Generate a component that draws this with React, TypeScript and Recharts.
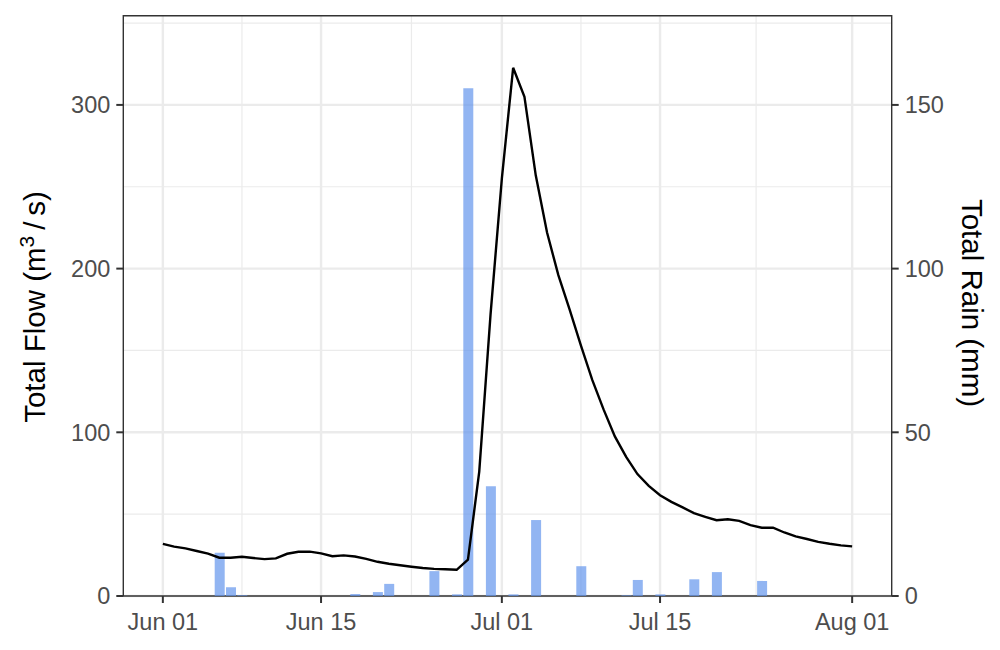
import {
  ComposedChart,
  Bar,
  Line,
  XAxis,
  YAxis,
  CartesianGrid,
  ReferenceArea,
  Label,
} from 'recharts'

// daily series, Jun 01 .. Aug 01 (62 days)
const flow = [
  31.8, 30.2, 29.1, 27.5, 25.9, 23.4, 23.4, 24.0, 23.2, 22.5,
  23.0, 25.8, 27.0, 27.1, 26.0, 24.3, 24.8, 24.1, 22.7, 20.9,
  19.7, 18.8, 17.9, 17.1, 16.6, 16.3, 16.0, 22.2, 76, 172,
  255, 322.7, 305, 257, 222, 196, 175, 153, 132, 114,
  97.5, 85, 74.5, 67.3, 61.6, 57.5, 54.1, 50.6, 48.4, 46.3,
  46.9, 45.9, 43.3, 41.7, 41.7, 38.8, 36.4, 34.8, 33.1, 31.9,
  30.9, 30.3,
]

const rain = [
  0, 0, 0, 0, 0, 13.2, 2.7, 0.2, 0, 0,
  0, 0, 0, 0, 0, 0, 0, 0.6, 0, 1.2,
  3.7, 0, 0, 0, 7.6, 0, 0.5, 155.1, 0, 33.5,
  0, 0.5, 0, 23.2, 0, 0, 0, 9.1, 0, 0,
  0, 0.2, 4.9, 0, 0.5, 0, 0, 5.1, 0, 7.3,
  0, 0, 0, 4.6, 0, 0, 0, 0, 0, 0,
  0, 0,
]

const tickDays = [0, 14, 30, 44, 61]
const tickLabels = ['Jun 01', 'Jun 15', 'Jul 01', 'Jul 15', 'Aug 01']
const minorDays = [7, 22, 37, 52.5]
const flowTicks = [0, 100, 200, 300]
const flowMinor = [50, 150, 250, 350]
const rainTicks = [0, 50, 100, 150]

const data = flow.map((f, i) => ({ day: i, flow: f, rain: rain[i] }))

const FONT = '"Liberation Sans", Arial, Helvetica, sans-serif'
const tickStyle = { fontSize: 23.5, fill: '#4D4D4D', fontFamily: FONT }

const xDomain = [-3.5, 64.5]
const flowDomain = [0, 354.5]
const rainDomain = [0, 177.25]

export default function App() {
  return (
    <div style={{ position: 'absolute', left: 0, top: 0, width: 1000, height: 650, background: '#fff' }}>
      <ComposedChart
        width={1000}
        height={650}
        data={data}
        margin={{ top: 15.7, right: 8.3, bottom: 14, left: 23.3 }}
      >
        <CartesianGrid
          xAxisId="x"
          yAxisId="left"
          verticalValues={minorDays}
          horizontalValues={flowMinor}
          stroke="#EBEBEB"
          strokeWidth={1.2}
        />
        <CartesianGrid
          xAxisId="x"
          yAxisId="left"
          verticalValues={tickDays}
          horizontalValues={flowTicks}
          stroke="#EBEBEB"
          strokeWidth={2.4}
        />
        <XAxis
          xAxisId="x"
          dataKey="day"
          type="number"
          domain={xDomain}
          allowDataOverflow
          ticks={tickDays}
          tickFormatter={(d: number) => tickLabels[tickDays.indexOf(d)]}
          tick={tickStyle}
          tickSize={7}
          tickMargin={10}
          tickLine={{ stroke: '#333333', strokeWidth: 2 }}
          axisLine={false}
          height={40}
        />
        <YAxis
          yAxisId="left"
          type="number"
          domain={flowDomain}
          allowDataOverflow
          ticks={flowTicks}
          tick={tickStyle}
          tickSize={7}
          tickMargin={6}
          tickLine={{ stroke: '#333333', strokeWidth: 2 }}
          axisLine={false}
          width={100}
        >
          <Label
            content={() => (
              <text
                x={45}
                y={307}
                transform="rotate(-90 45 307)"
                textAnchor="middle"
                fontSize={29.5}
                fontFamily={FONT}
                fill="#000"
              >
                Total Flow (m
                <tspan fontSize={21} dy={-11}>3</tspan>
                <tspan dy={11}>{'\u2009/\u2009s)'}</tspan>
              </text>
            )}
          />
        </YAxis>
        <YAxis
          yAxisId="right"
          orientation="right"
          type="number"
          domain={rainDomain}
          allowDataOverflow
          ticks={rainTicks}
          tick={tickStyle}
          tickSize={7}
          tickMargin={6}
          tickLine={{ stroke: '#333333', strokeWidth: 2 }}
          axisLine={false}
          width={100}
        >
          <Label
            content={() => (
              <text
                x={962}
                y={303}
                transform="rotate(90 962 303)"
                textAnchor="middle"
                fontSize={29.5}
                fontFamily={FONT}
                fill="#000"
              >
                Total Rain (mm)
              </text>
            )}
          />
        </YAxis>
        <Bar
          xAxisId="x"
          yAxisId="right"
          dataKey="rain"
          fill="#6495ED"
          fillOpacity={0.7}
          barSize={10}
          isAnimationActive={false}
        />
        <Line
          xAxisId="x"
          yAxisId="left"
          dataKey="flow"
          type="linear"
          stroke="#000"
          strokeWidth={2.4}
          dot={false}
          isAnimationActive={false}
        />
        <ReferenceArea
          xAxisId="x"
          yAxisId="left"
          x1={xDomain[0]}
          x2={xDomain[1]}
          y1={flowDomain[0]}
          y2={flowDomain[1]}
          fill="none"
          stroke="#333333"
          strokeWidth={1.4}
        />
      </ComposedChart>
    </div>
  )
}
